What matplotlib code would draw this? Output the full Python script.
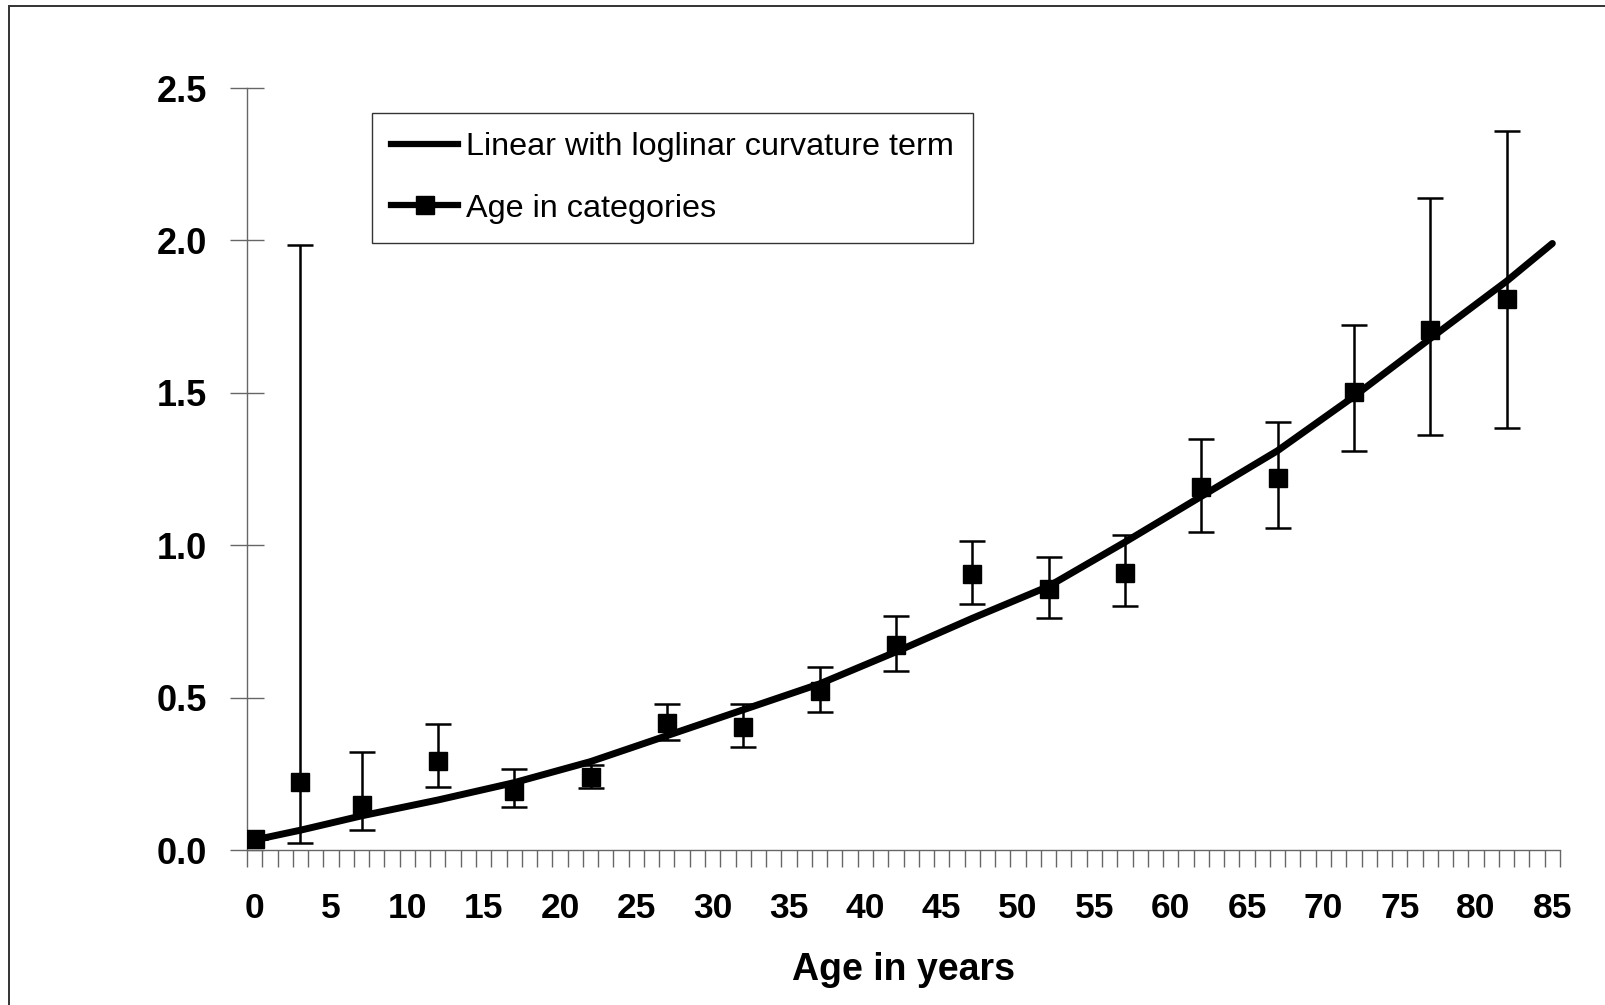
import matplotlib.pyplot as plt
from matplotlib.lines import Line2D
from matplotlib.patches import Rectangle
import numpy as np

plt.rcParams['font.family'] = ['Liberation Sans', 'DejaVu Sans']

# fitted curve: linear with loglinear curvature term
curve_age = [0, 3, 7, 12, 17, 22, 27, 32, 37, 42, 47, 52, 57, 62, 67, 72, 77, 82, 85]
curve_val = [0.033, 0.065, 0.112, 0.164, 0.221, 0.29, 0.375, 0.46, 0.545, 0.65,
             0.76, 0.865, 1.01, 1.16, 1.31, 1.488, 1.678, 1.866, 1.99]

# estimates by age category with confidence limits
cat_age = [0, 3, 7, 12, 17, 22, 27, 32, 37, 42, 47, 52, 57, 62, 67, 72, 77, 82]
cat_val = [0.035, 0.223, 0.148, 0.293, 0.195, 0.241, 0.416, 0.405, 0.523, 0.673,
           0.906, 0.856, 0.91, 1.19, 1.219, 1.501, 1.707, 1.809]
cat_low = [0.035, 0.024, 0.066, 0.207, 0.142, 0.204, 0.361, 0.338, 0.453, 0.588,
           0.807, 0.761, 0.801, 1.043, 1.056, 1.31, 1.362, 1.386]
cat_high = [0.035, 1.986, 0.32, 0.414, 0.265, 0.28, 0.479, 0.479, 0.602, 0.767,
            1.013, 0.961, 1.035, 1.35, 1.403, 1.722, 2.138, 2.359]

xticks = list(range(0, 86, 5))
yticks = [0.0, 0.5, 1.0, 1.5, 2.0, 2.5]

fig = plt.figure(figsize=(16.06, 10.05), dpi=100)
ax = fig.add_axes([247 / 1606, 155 / 1005, 1313 / 1606, 762 / 1005])

# outer chart frame
fig.patches.append(Rectangle((9 / 1606, -0.05), 1.2, 1 - 6 / 1005 + 0.05,
                             transform=fig.transFigure, fill=False,
                             edgecolor='#333333', linewidth=1.4))

ax.plot(curve_age, curve_val, color='black', lw=5, solid_capstyle='round',
        solid_joinstyle='round', zorder=3)

val = np.array(cat_val)
yerr = [val - np.array(cat_low), np.array(cat_high) - val]
ax.errorbar(cat_age, cat_val, yerr=yerr, fmt='s', color='black', ms=13.5,
            elinewidth=1.8, capsize=9.5, capthick=1.8, zorder=4)

ax.set_xlim(-0.5, 85.5)
ax.set_ylim(0, 2.5)

for side in ['top', 'right']:
    ax.spines[side].set_visible(False)
for side in ['left', 'bottom']:
    ax.spines[side].set_color('#666666')
    ax.spines[side].set_linewidth(1.0)

ax.set_yticks(yticks)
ax.set_yticklabels(['%.1f' % v for v in yticks], fontsize=26, fontweight='bold')
ax.tick_params(axis='y', direction='inout', length=24, width=1.0,
               color='#666666', pad=17)

ax.set_xticks(xticks)
ax.set_xticklabels([str(v) for v in xticks], fontsize=25.5, fontweight='bold')
ax.set_xticks(np.arange(-0.5, 86, 1), minor=True)
ax.tick_params(axis='x', which='major', length=0, pad=30)
ax.tick_params(axis='x', which='minor', direction='out', length=12, width=1.0,
               color='#666666')

ax.set_xlabel('Age in years', fontsize=27, fontweight='bold', labelpad=20)

handles = [Line2D([], [], color='black', lw=4.5),
           Line2D([], [], color='black', lw=4.5, marker='s', ms=13)]
leg = fig.legend(handles, ['Linear with loglinar curvature term', 'Age in categories'],
                 loc='upper left', bbox_to_anchor=(372 / 1606, 1 - 113 / 1005),
                 bbox_transform=fig.transFigure, borderaxespad=0, fontsize=23.3,
                 frameon=True, fancybox=False, edgecolor='black',
                 handlelength=2.05, handletextpad=0.25, borderpad=0.6,
                 labelspacing=0.97)
leg.get_frame().set_linewidth(1.0)

fig.savefig('out.png', dpi=100)
